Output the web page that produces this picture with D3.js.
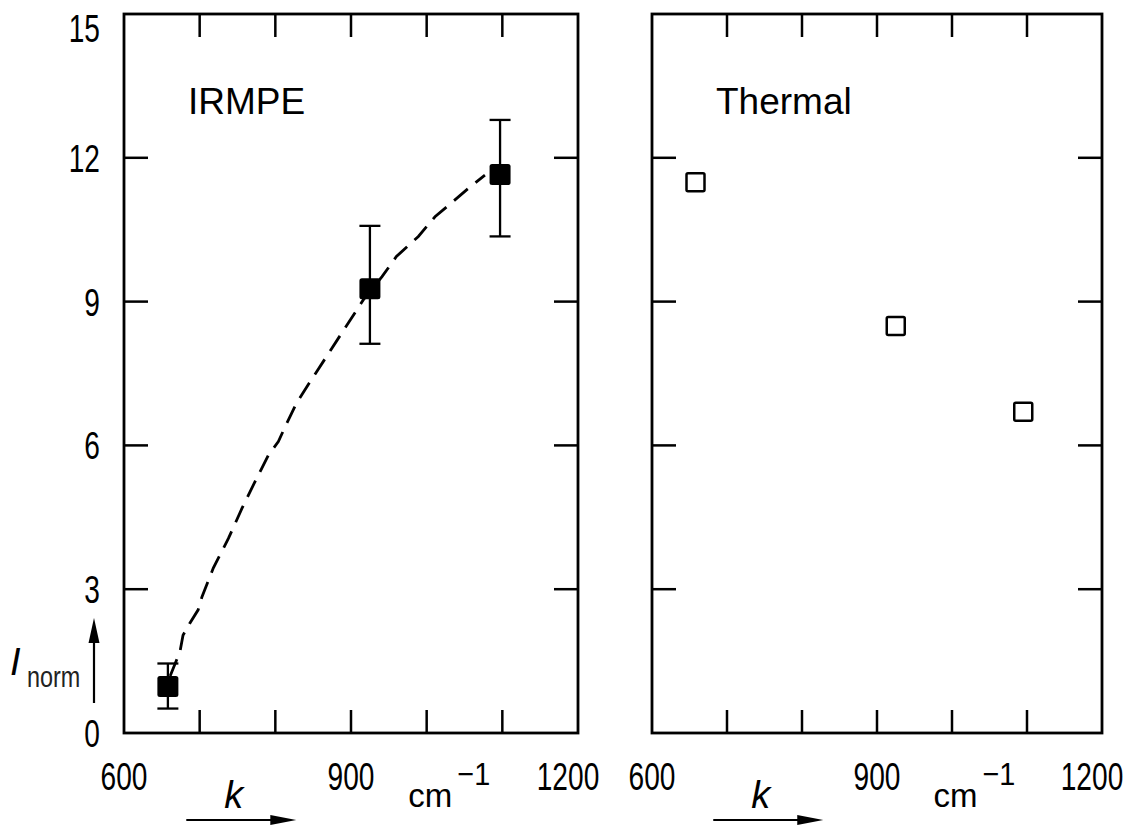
<!DOCTYPE html>
<html>
<head>
    <title>IRMPE vs Thermal</title>
    <script src="https://d3js.org/d3.v7.min.js"></script>
    <style>
        body { margin: 0; background: #fff; }
        text { font-family: "Liberation Sans", Arial, sans-serif; fill: #000; }
    </style>
</head>
<body>
<script>
    // data
    const irmpeK  = [658, 925, 1097];
    const irmpeI  = [0.97, 9.27, 11.65];
    const irmpeLo = [0.51, 8.12, 10.36];
    const irmpeHi = [1.45, 10.58, 12.79];

    const thermalK = [658, 925, 1095];
    const thermalI = [11.49, 8.49, 6.70];

    // dashed guide line through the IRMPE points
    const fitK = [661, 674, 678, 687, 698, 703, 718, 738, 756, 773, 791, 804, 813, 828, 844, 872, 916, 941, 960, 989, 1011, 1035, 1055, 1077];
    const fitI = [1.19, 1.70, 2.04, 2.29, 2.57, 2.84, 3.44, 4.06, 4.69, 5.24, 5.80, 6.08, 6.39, 6.88, 7.28, 7.96, 9.03, 9.52, 9.94, 10.36, 10.77, 11.09, 11.36, 11.64];

    const xLabels = [600, 900, 1200];
    const xMinor = [700, 800, 900, 1000, 1100];
    const yLabels = [0, 3, 6, 9, 12, 15];
    const yMinor = [3, 6, 9, 12];

    const svg = d3.select("body").append("svg")
        .attr("width", 1133)
        .attr("height", 827);

    const yTop = 14, yBottom = 733;
    const yScale = d3.scaleLinear().domain([0, 15]).range([yBottom, yTop]);

    const panels = [
        {x0: 124, x1: 578, title: "IRMPE", yText: true},
        {x0: 652, x1: 1102, title: "Thermal", yText: false}
    ];

    const tickLen = 23;

    // condensed text helper (the digits in the picture are narrow)
    function narrowText(g, x, y, str, size, anchor, sx) {
        return g.append("text")
            .attr("transform", `translate(${x},${y}) scale(${sx},1)`)
            .attr("text-anchor", anchor)
            .style("font-size", size + "px")
            .text(str);
    }

    panels.forEach(function(p) {
        const xScale = d3.scaleLinear().domain([600, 1200]).range([p.x0, p.x1]);
        p.xScale = xScale;
        const g = svg.append("g");

        // frame
        g.append("rect")
            .attr("x", p.x0).attr("y", yTop)
            .attr("width", p.x1 - p.x0).attr("height", yBottom - yTop)
            .attr("fill", "none").attr("stroke", "#000").attr("stroke-width", 2.8);

        // inward ticks on all four sides
        xMinor.forEach(function(v) {
            const x = xScale(v);
            g.append("line").attr("x1", x).attr("x2", x).attr("y1", yBottom).attr("y2", yBottom - tickLen)
                .attr("stroke", "#000").attr("stroke-width", 2.5);
            g.append("line").attr("x1", x).attr("x2", x).attr("y1", yTop).attr("y2", yTop + tickLen)
                .attr("stroke", "#000").attr("stroke-width", 2.5);
        });
        yMinor.forEach(function(v) {
            const y = yScale(v);
            g.append("line").attr("x1", p.x0).attr("x2", p.x0 + tickLen + 1).attr("y1", y).attr("y2", y)
                .attr("stroke", "#000").attr("stroke-width", 2.5);
            g.append("line").attr("x1", p.x1).attr("x2", p.x1 - tickLen - 1).attr("y1", y).attr("y2", y)
                .attr("stroke", "#000").attr("stroke-width", 2.5);
        });

        // x tick labels
        xLabels.forEach(function(v, i) {
            let x = xScale(v);
            if (i === xLabels.length - 1) x -= 10;
            narrowText(g, x, 790, String(v), 38, "middle", 0.74);
        });

        // y tick labels (left panel only)
        if (p.yText) {
            yLabels.forEach(function(v) {
                const y = Math.max(yScale(v) + 14, 42);
                narrowText(g, 100, y, String(v), 38, "end", 0.74);
            });
        }

        // panel title
        g.append("text")
            .attr("x", p.x0 + 64).attr("y", 114)
            .style("font-size", "37px")
            .text(p.title);

        // unit label cm^-1
        const cx = xScale(1030);
        g.append("text").attr("x", cx - 41).attr("y", 807).style("font-size", "33px").text("cm");
        narrowText(g, cx + 8, 785, "\u22121", 32, "start", 0.9);

        // k with arrow
        g.append("text")
            .attr("x", xScale(745)).attr("y", 808)
            .attr("text-anchor", "middle")
            .style("font-size", "38px").style("font-style", "italic")
            .text("k");
        const ax = xScale(755);
        g.append("line").attr("x1", ax - 55).attr("x2", ax + 32).attr("y1", 820).attr("y2", 820)
            .attr("stroke", "#000").attr("stroke-width", 2.2);
        g.append("path")
            .attr("d", `M${ax + 55},820 L${ax + 29},815 L${ax + 29},825 Z`)
            .attr("fill", "#000");
    });

    // y axis quantity label with arrow
    svg.append("line").attr("x1", 94).attr("x2", 94).attr("y1", 703).attr("y2", 640)
        .attr("stroke", "#000").attr("stroke-width", 2.2);
    svg.append("path").attr("d", "M94,618 L88.5,643 L99.5,643 Z").attr("fill", "#000");
    svg.append("text").attr("x", 10).attr("y", 675)
        .style("font-size", "38px").style("font-style", "italic").text("I");
    narrowText(svg, 27, 687, "norm", 30, "start", 0.78).style("fill", "#222");

    // IRMPE panel marks
    const xL = panels[0].xScale;
    const xR = panels[1].xScale;

    const line = d3.line()
        .x((d, i) => xL(fitK[i]))
        .y(d => yScale(d));
    svg.append("path")
        .datum(fitI)
        .attr("d", line)
        .attr("fill", "none")
        .attr("stroke", "#000")
        .attr("stroke-width", 2.8)
        .attr("stroke-dasharray", "18,10");

    const capW = 21;
    irmpeK.forEach(function(k, i) {
        const x = xL(k);
        svg.append("line").attr("x1", x).attr("x2", x)
            .attr("y1", yScale(irmpeLo[i])).attr("y2", yScale(irmpeHi[i]))
            .attr("stroke", "#000").attr("stroke-width", 2.3);
        [irmpeLo[i], irmpeHi[i]].forEach(function(v) {
            svg.append("line").attr("x1", x - capW / 2).attr("x2", x + capW / 2)
                .attr("y1", yScale(v)).attr("y2", yScale(v))
                .attr("stroke", "#000").attr("stroke-width", 2.3);
        });
        svg.append("rect")
            .attr("x", x - 10.5).attr("y", yScale(irmpeI[i]) - 10.5)
            .attr("width", 21).attr("height", 21)
            .attr("rx", 2.5)
            .attr("fill", "#000");
    });

    // Thermal panel marks
    thermalK.forEach(function(k, i) {
        svg.append("rect")
            .attr("x", xR(k) - 9).attr("y", yScale(thermalI[i]) - 9)
            .attr("width", 18).attr("height", 18)
            .attr("rx", 1.5)
            .attr("fill", "#fff")
            .attr("stroke", "#000")
            .attr("stroke-width", 2.5);
    });
</script>
</body>
</html>
